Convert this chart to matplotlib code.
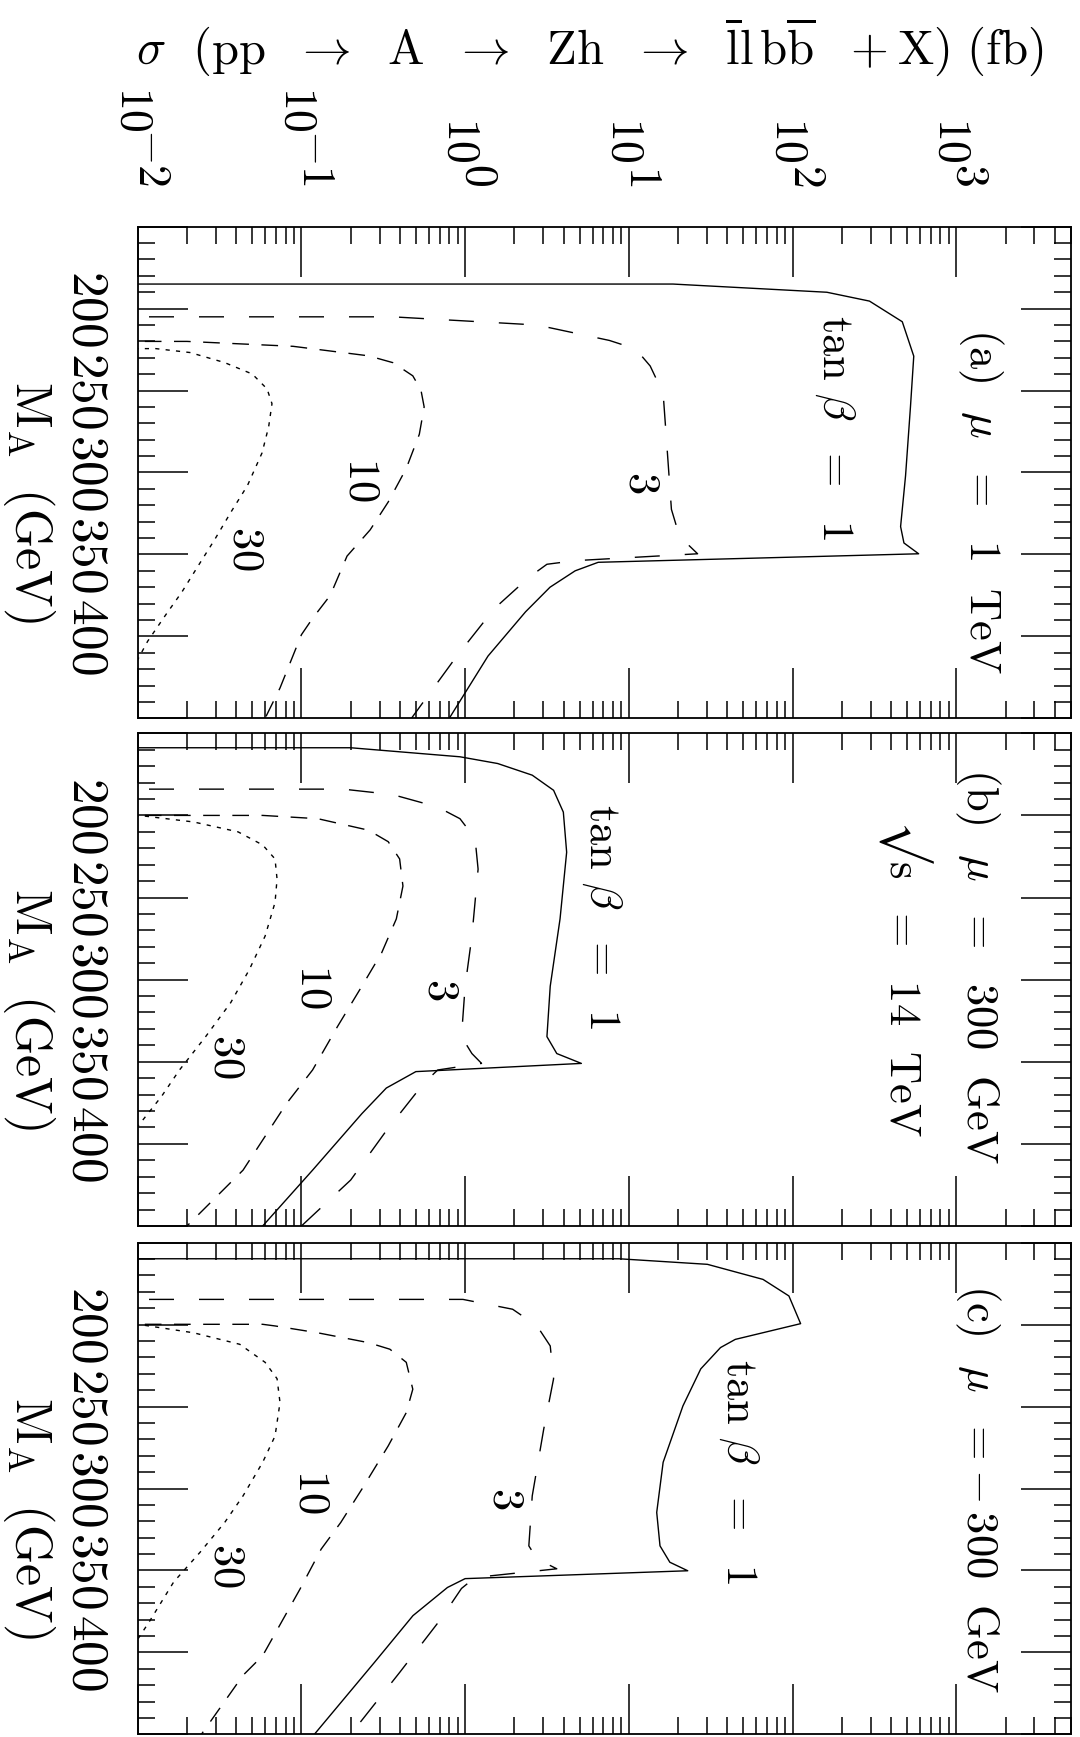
import matplotlib
matplotlib.use("Agg")
import matplotlib.pyplot as plt
import matplotlib.transforms as mtransforms
from matplotlib.ticker import LogLocator, NullFormatter, MultipleLocator
import numpy as np

plt.rcParams['mathtext.fontset'] = 'cm'
plt.rcParams['font.family'] = ['DejaVu Serif']
plt.rcParams['lines.scale_dashes'] = False

# ---- data: M_A (GeV) and sigma (fb) ----
# panel (a) mu = 1 TeV
ma_a1 = [185, 185, 190, 195.4, 208, 229, 260, 302, 333, 343, 349.6, 354.8, 360, 370, 385, 412, 450]
sig_a1 = [0.001, 18.6, 162, 295, 468, 550, 525, 490, 457, 479, 589, 6.5, 4.7, 3.3, 2.34, 1.38, 0.8]
ma_a3 = [205, 205, 210, 219.4, 224.6, 235, 251.7, 280.8, 322.5, 339, 349.6, 353.8, 356, 364, 383, 412, 450]
sig_a3 = [0.001, 0.36, 2.75, 7.6, 11, 13.5, 16.2, 17, 18.2, 20.4, 26.3, 4.7, 3.16, 2.45, 1.51, 0.89, 0.47]
ma_a10 = [220, 220, 223, 228.8, 233, 241, 249.6, 260, 276.7, 297.5, 318, 335, 351, 375, 389, 399, 431.5, 450]
sig_a10 = [0.001, 0.02, 0.089, 0.257, 0.363, 0.479, 0.537, 0.562, 0.525, 0.437, 0.339, 0.263, 0.19, 0.15, 0.117, 0.1, 0.074, 0.06]
ma_a30 = [224.4, 224.4, 226.8, 232.9, 239.9, 249, 258, 272, 288, 308, 324, 341, 357, 373, 387, 403, 420]
sig_a30 = [0.001, 0.0129, 0.0209, 0.0339, 0.0501, 0.0617, 0.0661, 0.0631, 0.0575, 0.0468, 0.0372, 0.0295, 0.0234, 0.0186, 0.0148, 0.0115, 0.0093]

# panel (b) mu = 300 GeV
ma_b1 = [158.8, 158.8, 164.3, 168.4, 175.5, 184.7, 198, 222.4, 263, 304, 334.7, 345, 351, 356, 366, 381.6, 416, 450]
sig_b1 = [0.001, 0.2, 0.93, 1.58, 2.57, 3.47, 3.98, 4.17, 3.8, 3.31, 3.16, 3.63, 5.13, 0.5, 0.33, 0.234, 0.117, 0.058]
ma_b3 = [184, 184, 187.3, 194.9, 202, 214, 232.7, 273.5, 304, 334.7, 345, 351, 355, 363, 392, 422, 450]
sig_b3 = [0.001, 0.18, 0.36, 0.68, 0.93, 1.15, 1.2, 1.1, 1.0, 0.95, 1.1, 1.26, 0.68, 0.56, 0.33, 0.2, 0.1]
ma_b10 = [200, 200, 202, 209, 216, 226.5, 243, 263, 283.7, 304, 328.6, 355, 375.5, 416, 450]
sig_b10 = [0.001, 0.058, 0.126, 0.257, 0.339, 0.398, 0.417, 0.38, 0.309, 0.234, 0.166, 0.117, 0.081, 0.044, 0.02]
ma_b30 = [200.4, 200.4, 204, 210, 218, 226.5, 238.8, 253, 273.5, 294, 314, 334.7, 355, 371, 385.7, 395]
sig_b30 = [0.001, 0.011, 0.022, 0.041, 0.058, 0.069, 0.071, 0.069, 0.06, 0.048, 0.037, 0.026, 0.018, 0.014, 0.0107, 0.009]

# panel (c) mu = -300 GeV
ma_c1 = [159.8, 159.8, 163.2, 172.4, 182.5, 199.4, 209, 214, 227, 249.6, 284, 314.6, 335, 345, 350.2, 355, 360.4, 377.6, 406, 450]
sig_c1 = [0.001, 8.7, 30.2, 66, 95, 112, 44.7, 36.3, 27.5, 21.4, 16.2, 14.8, 15.5, 17.8, 22.9, 1.0, 0.78, 0.48, 0.28, 0.12]
ma_c3 = [184.6, 184.6, 190.6, 200.8, 213, 233, 263.8, 304.5, 335, 343, 349, 354.3, 361, 379.7, 412, 450]
sig_c3 = [0.001, 0.97, 1.95, 2.75, 3.31, 3.47, 3.02, 2.57, 2.45, 2.75, 3.63, 1.15, 0.95, 0.71, 0.4, 0.2]
ma_c10 = [199.8, 199.8, 200.8, 205, 211, 215, 223, 239.4, 253.7, 274, 300.4, 320.7, 337, 361.4, 402, 414, 450]
sig_c10 = [0.001, 0.058, 0.069, 0.126, 0.257, 0.347, 0.437, 0.479, 0.437, 0.339, 0.234, 0.174, 0.132, 0.098, 0.058, 0.044, 0.0245]
ma_c30 = [200.4, 200.4, 205, 212, 223, 233, 247.6, 268, 284, 304.5, 320.7, 339, 357, 381.7, 392, 400]
sig_c30 = [0.001, 0.011, 0.022, 0.042, 0.06, 0.071, 0.074, 0.069, 0.058, 0.044, 0.034, 0.024, 0.0166, 0.0117, 0.01, 0.0088]

ma_ticks = [150, 200, 250, 300, 350, 400, 450]
ma_labels = ['', '200', '250', '300', '350', '400', '']
sig_decades = [1e-2, 1e-1, 1e0, 1e1, 1e2, 1e3]
sig_exps = ['-2', '-1', '0', '1', '2', '3']

W, H = 1080, 1737
fig = plt.figure(figsize=(W / 100, H / 100), dpi=100)

panel_px = [(226.7, 718.3), (733.3, 1226.0), (1242.7, 1734.3)]
styles = {1: '-', 3: (0, (18, 18)), 10: (0, (12, 9)), 30: (0, (3, 4.5))}

curves = [
    {1: (sig_a1, ma_a1), 3: (sig_a3, ma_a3), 10: (sig_a10, ma_a10), 30: (sig_a30, ma_a30)},
    {1: (sig_b1, ma_b1), 3: (sig_b3, ma_b3), 10: (sig_b10, ma_b10), 30: (sig_b30, ma_b30)},
    {1: (sig_c1, ma_c1), 3: (sig_c3, ma_c3), 10: (sig_c10, ma_c10), 30: (sig_c30, ma_c30)},
]

# (text, sigma, M_A, va) for each panel
notes = [
    [(r'$(\mathrm{a})\ \ \mu\ \ =\ \ 1\ \ \mathrm{TeV}$', 1400, 212, 'top'),
     (r'$\mathrm{tan}\ \beta\ \ =\ \ 1$', 182, 204, 'top'),
     (r'$3$', 12, 306, 'center'),
     (r'$10$', 0.234, 304, 'center'),
     (r'$30$', 0.0457, 346, 'center')],
    [(r'$(\mathrm{b})\ \ \mu\ \ =\ \ 300\ \ \mathrm{GeV}$', 1350, 171, 'top'),
     ('$\u221a\\mathrm{s}\\ \\ =\\ \\ 14\\ \\ \\mathrm{TeV}$', 490, 202, 'top'),
     (r'$\mathrm{tan}\ \beta\ \ =\ \ 1$', 6.8, 193, 'top'),
     (r'$3$', 0.71, 306, 'center'),
     (r'$10$', 0.12, 304, 'center'),
     (r'$30$', 0.035, 347, 'center')],
    [(r'$(\mathrm{c})\ \ \mu\ \ =\!-300\ \ \mathrm{GeV}$', 1350, 175, 'top'),
     (r'$\mathrm{tan}\ \beta\ \ =\ \ 1$', 47, 221, 'top'),
     (r'$3$', 1.78, 306, 'center'),
     (r'$10$', 0.117, 302, 'center'),
     (r'$30$', 0.035, 347, 'center')],
]

axes = []
for i, (top, bot) in enumerate(panel_px):
    ax = fig.add_axes([137.7 / W, 1 - bot / H, 933 / W, (bot - top) / H])
    axes.append(ax)
    for tb, (s, m) in curves[i].items():
        ax.plot(s, m, color='k', lw=1.0, ls=styles[tb])
    ax.set_xscale('log')
    ax.set_xlim(1e-2, 5e3)
    ax.set_ylim(450, 150)
    ax.xaxis.set_major_locator(LogLocator(base=10, numticks=20))
    ax.xaxis.set_minor_locator(LogLocator(base=10, subs=np.arange(2, 10), numticks=20))
    ax.xaxis.set_minor_formatter(NullFormatter())
    ax.yaxis.set_minor_locator(MultipleLocator(10))
    ax.set_yticks(ma_ticks, [('$%s$' % t if t else '') for t in ma_labels])
    ax.tick_params(which='both', direction='in', top=True, bottom=True, left=True, right=True,
                   width=1.1, labelbottom=False, labeltop=False)
    ax.tick_params(which='major', length=36)
    ax.tick_params(which='minor', length=12.2)
    ax.tick_params(axis='y', labelsize=37, pad=19)
    for lbl in ax.get_yticklabels():
        lbl.set_rotation(-90)
        lbl.set_va('center')
    for sp in ax.spines.values():
        sp.set_linewidth(1.3)
    for txt, xs, ys, va in notes[i]:
        ax.text(xs, ys, txt, rotation=-90, ha='center', va=va, fontsize=32)
    lab_tr = mtransforms.blended_transform_factory(fig.transFigure, ax.transData)
    ax.text(29 / W, 318, r'$\mathrm{M}_\mathrm{A}\ \ (\mathrm{GeV})$', transform=lab_tr,
            rotation=-90, ha='center', va='center', fontsize=36)

# sigma tick labels above the top panel, exponent drawn at full size
ax0 = axes[0]
base_tr = mtransforms.blended_transform_factory(ax0.transData, fig.transFigure)
for d, e in zip(sig_decades, sig_exps):
    neg = e.startswith('-')
    tr10 = base_tr + mtransforms.ScaledTranslation(-4 / 100, 0, fig.dpi_scale_trans)
    trex = base_tr + mtransforms.ScaledTranslation(14 / 100, 0, fig.dpi_scale_trans)
    fig.text(d, 1 - (86 if neg else 117) / H, r'$10$', transform=tr10, rotation=-90,
             ha='center', va='top', fontsize=33)
    fig.text(d, 1 - 186 / H, r'$%s$' % e, transform=trex, rotation=-90,
             ha='center', va='bottom', fontsize=33)

fig.text(590 / W, 1 - 47 / H,
         r'$\sigma\ \ (\mathrm{pp}\ \ \rightarrow\ \ \mathrm{A}\ \ \rightarrow\ \ \mathrm{Zh}\ \ \rightarrow\ \ '
         r'\overline{\mathrm{l}}\mathrm{l}\,\mathrm{b}\overline{\mathrm{b}}\ \ +\mathrm{X})\ (\mathrm{fb})$',
         ha='center', va='center', fontsize=35)

fig.savefig('out.png', dpi=100)
